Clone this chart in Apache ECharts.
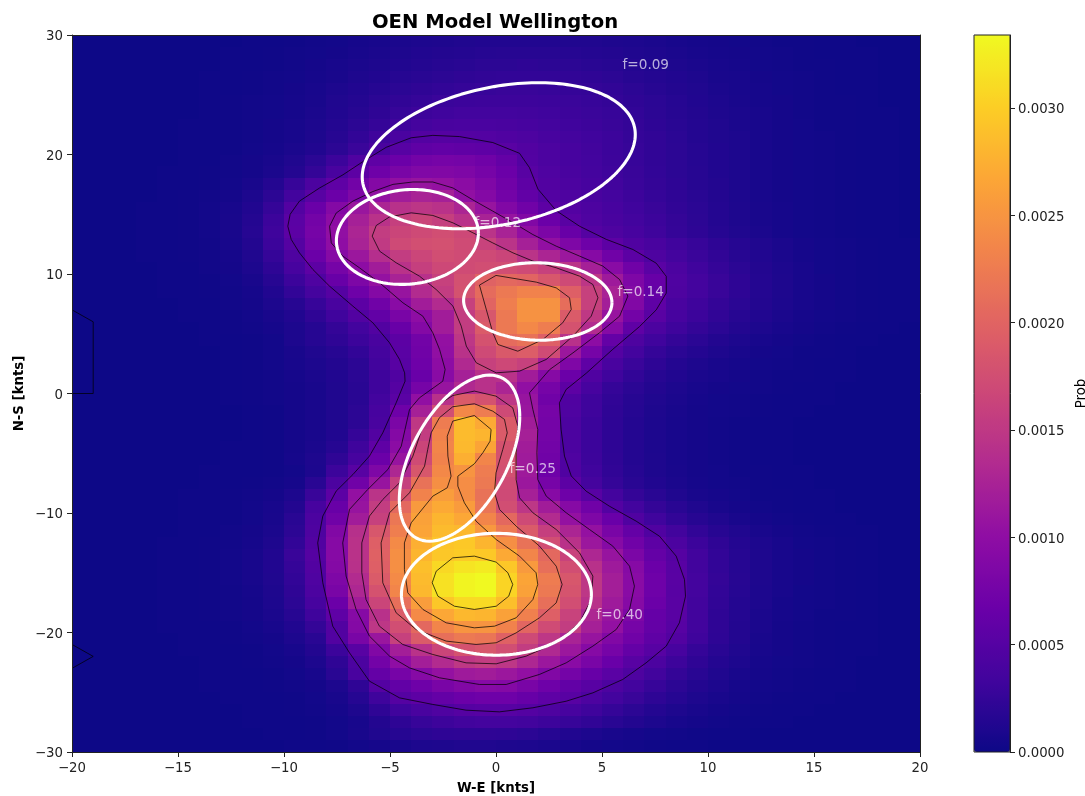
<!DOCTYPE html>
<html><head><meta charset="utf-8">
<style>html,body{margin:0;padding:0;background:#fff}#c{width:1085px;height:796px}</style>
<script src="https://cdn.jsdelivr.net/npm/echarts@6/dist/echarts.min.js"></script>
</head><body><div id="c"></div>
<script>
const titleText = "OEN Model Wellington";
const xLabel = "W-E [knts]";
const yLabel = "N-S [knts]";
const cbarLabel = "Prob";
const plasma = ["#0d0887","#41049d","#6a00a8","#8f0da4","#b12a90","#cc4778","#e16462","#f2844b","#fca636","#fcce25","#f0f921"];
const probMax = 0.00334;
const xCells = [-19.5,-18.5,-17.5,-16.5,-15.5,-14.5,-13.5,-12.5,-11.5,-10.5,-9.5,-8.5,-7.5,-6.5,-5.5,-4.5,-3.5,-2.5,-1.5,-0.5,0.5,1.5,2.5,3.5,4.5,5.5,6.5,7.5,8.5,9.5,10.5,11.5,12.5,13.5,14.5,15.5,16.5,17.5,18.5,19.5];
const yCells = [29.5,28.5,27.5,26.5,25.5,24.5,23.5,22.5,21.5,20.5,19.5,18.5,17.5,16.5,15.5,14.5,13.5,12.5,11.5,10.5,9.5,8.5,7.5,6.5,5.5,4.5,3.5,2.5,1.5,0.5,-0.5,-1.5,-2.5,-3.5,-4.5,-5.5,-6.5,-7.5,-8.5,-9.5,-10.5,-11.5,-12.5,-13.5,-14.5,-15.5,-16.5,-17.5,-18.5,-19.5,-20.5,-21.5,-22.5,-23.5,-24.5,-25.5,-26.5,-27.5,-28.5,-29.5];
// probability per cell, in units of 1e-5, rows from y=+29.5 down to y=-29.5
const probRows = [
[0,0,0,0,0,0,0,0,1,1, 2,3,4,6,7,9,10,11,12,13, 13,13,13,12,12,11,10,9,7,6, 5,4,3,2,2,1,1,0,0,0],
[0,0,0,0,0,0,0,1,1,2, 3,4,5,7,9,11,13,14,15,16, 17,17,17,16,15,14,12,11,9,7, 6,5,4,3,2,1,1,1,0,0],
[0,0,0,0,0,0,0,1,1,2, 3,5,7,9,11,13,15,17,18,20, 20,21,20,20,18,17,15,13,11,9, 7,6,4,3,2,2,1,1,0,0],
[0,0,0,0,0,0,1,1,2,3, 4,6,8,11,13,16,18,20,22,23, 24,24,24,23,22,20,17,15,13,11, 8,7,5,4,3,2,1,1,0,0],
[0,0,0,0,0,0,1,1,2,3, 5,7,10,13,16,19,22,24,26,27, 28,28,27,26,25,23,20,17,14,12, 9,7,6,4,3,2,1,1,0,0],
[0,0,0,0,0,0,1,2,3,4, 6,8,12,15,19,23,26,29,30,31, 31,31,30,29,27,25,22,19,16,13, 10,8,6,5,3,2,2,1,0,0],
[0,0,0,0,0,0,1,2,3,4, 6,9,13,17,22,27,31,33,35,35, 35,34,33,31,29,27,24,20,17,14, 11,9,7,5,3,2,2,1,1,0],
[0,0,0,0,0,1,1,2,3,5, 7,10,15,20,26,32,37,40,41,41, 40,38,36,33,31,28,25,21,18,15, 12,9,7,5,4,2,2,1,1,0],
[0,0,0,0,0,1,1,2,3,5, 7,11,17,24,32,41,48,50,49,48, 46,43,39,36,33,30,26,23,19,15, 12,10,7,5,4,3,2,1,1,0],
[0,0,0,0,0,1,1,2,4,6, 9,13,20,29,40,51,58,60,59,57, 53,47,42,38,34,30,27,23,20,16, 13,10,7,5,4,3,2,1,1,0],
[0,0,0,0,0,1,1,3,5,8, 12,19,30,46,58,68,75,78,76,71, 62,48,42,38,35,31,27,23,20,16, 13,10,7,5,4,3,2,1,1,0],
[0,0,0,0,1,1,2,3,5,9, 15,25,40,56,70,80,87,88,85,78, 68,52,45,40,36,32,28,24,20,17, 13,10,7,5,4,3,2,1,1,0],
[0,0,0,0,1,1,2,4,8,15, 27,42,58,74,90,103,108,105,97,86, 72,57,47,42,38,34,29,25,21,17, 14,10,7,5,4,3,2,1,1,0],
[0,0,0,0,1,2,3,5,10,20, 35,52,68,85,103,118,125,122,102,90, 75,60,48,44,40,36,31,26,22,18, 14,10,7,5,4,3,2,1,1,0],
[0,0,0,1,1,2,4,7,13,26, 48,67,90,110,128,142,147,143,128,108, 88,72,56,48,43,38,33,28,23,19, 15,11,8,6,4,3,2,1,1,0],
[0,0,0,1,1,2,4,8,15,30, 54,75,98,122,143,158,165,158,143,125, 107,88,68,53,45,40,35,30,25,20, 15,11,8,6,4,3,2,1,1,0],
[0,0,0,1,1,2,4,8,16,32, 55,78,102,128,155,165,170,175,168,145, 125,103,83,65,50,44,38,32,26,21, 16,12,9,6,4,3,2,1,1,0],
[0,0,0,1,1,2,3,7,14,30, 50,75,100,125,152,170,176,178,172,162, 145,122,103,85,70,56,46,40,33,27, 21,16,12,9,6,4,3,2,1,1],
[0,0,0,1,1,2,3,6,12,26, 44,68,92,112,138,155,166,175,172,170, 165,145,128,112,92,72,55,44,36,29, 23,17,13,9,6,4,3,2,1,1],
[0,0,0,0,1,1,3,5,10,21, 38,56,78,98,118,143,158,168,172,175, 175,170,160,145,122,95,72,54,42,33, 26,19,14,10,7,4,3,2,1,1],
[0,0,0,0,1,1,2,4,8,17, 30,45,65,84,105,125,142,160,178,198, 205,200,185,170,147,115,85,64,45,36, 28,21,15,11,7,5,3,2,1,1],
[0,0,0,0,1,1,2,3,6,13, 24,37,50,70,90,108,135,155,180,208, 222,232,232,195,160,125,90,62,44,36, 28,21,15,11,7,5,3,2,1,1],
[0,0,0,0,0,1,1,3,5,10, 17,27,40,55,72,95,118,135,160,200, 228,248,248,210,160,120,88,58,40,32, 25,19,14,10,7,5,3,2,1,1],
[0,0,0,0,0,1,1,2,4,8, 13,22,33,47,60,80,99,118,155,185, 222,248,248,190,150,108,75,53,38,30, 23,17,13,9,6,4,3,2,1,1],
[0,0,0,0,0,0,1,2,3,6, 10,16,25,35,47,65,90,118,155,190, 222,238,226,180,135,92,58,42,32,25, 19,14,10,7,5,3,2,1,1,0],
[0,0,0,0,0,0,1,1,2,4, 10,16,22,30,40,55,74,104,148,180, 208,215,195,142,98,62,44,33,25,19, 14,10,7,5,3,2,1,1,0,0],
[0,0,0,0,0,0,0,1,2,4, 8,12,17,24,37,54,72,102,143,170, 188,192,172,112,78,49,36,26,19,15, 11,8,5,4,2,2,1,0,0,0],
[0,0,0,0,0,0,0,1,2,4, 7,10,14,20,34,52,70,98,133,160, 168,160,120,86,58,40,29,21,15,11, 8,6,4,3,2,1,1,0,0,0],
[0,0,0,0,0,0,0,1,2,3, 6,9,13,19,32,46,66,95,122,142, 143,118,92,68,46,33,24,17,13,9, 7,5,3,2,2,1,1,0,0,0],
[0,0,0,0,0,0,0,1,2,3, 5,8,12,18,32,50,78,108,133,142, 128,102,78,56,38,26,19,14,10,7, 5,4,3,2,1,1,0,0,0,0],
[0,0,0,0,0,0,0,1,2,3, 5,8,12,18,35,54,102,142,190,180, 148,108,72,46,32,23,17,12,9,6, 4,3,2,1,1,1,0,0,0,0],
[0,0,0,0,0,0,0,0,1,2, 5,8,12,20,38,70,122,175,238,225, 170,110,78,45,32,22,16,11,8,5, 4,3,2,1,1,0,0,0,0,0],
[0,0,0,0,0,0,0,0,1,2, 5,8,12,20,40,82,150,225,285,270, 190,118,76,42,30,21,15,10,7,5, 3,2,1,1,0,0,0,0,0,0],
[0,0,0,0,0,0,0,0,1,2, 5,8,13,26,47,90,155,232,285,280, 190,122,76,42,30,21,15,10,7,5, 3,2,1,1,0,0,0,0,0,0],
[0,0,0,0,0,0,0,1,1,2, 5,9,16,32,58,97,165,235,283,265, 180,118,74,42,30,21,15,10,7,5, 3,2,1,1,0,0,0,0,0,0],
[0,0,0,0,0,0,0,1,1,2, 6,11,22,38,68,108,172,232,275,235, 180,116,72,45,31,22,15,11,7,5, 3,2,1,1,0,0,0,0,0,0],
[0,0,0,0,0,0,1,1,1,2, 4,10,30,52,85,130,185,238,250,225, 178,115,70,46,33,23,16,11,8,5, 4,2,2,1,1,0,0,0,0,0],
[0,0,0,0,0,0,1,1,2,3, 6,18,42,72,108,158,215,245,243,222, 172,112,78,55,37,26,18,13,9,6, 4,3,2,1,1,0,0,0,0,0],
[0,0,0,0,0,1,1,2,3,5, 10,28,55,104,145,182,232,258,243,215, 170,122,92,70,52,36,25,18,12,8, 6,4,2,2,1,1,0,0,0,0],
[0,0,0,0,0,1,1,2,4,7, 14,38,65,108,155,205,255,270,256,218, 175,148,118,92,72,48,35,25,18,12, 8,5,3,2,1,1,0,0,0,0],
[0,0,0,0,0,1,1,2,4,8, 18,42,72,118,160,220,262,280,268,235, 205,170,135,105,85,66,46,33,24,17, 12,8,5,3,2,1,1,0,0,0],
[0,0,0,0,0,1,1,3,5,9, 20,44,88,140,185,228,265,285,282,253, 222,190,158,128,105,80,62,46,34,24, 17,12,8,5,3,2,1,1,0,0],
[0,0,0,0,1,1,2,3,6,11, 24,47,92,143,195,240,275,292,296,280, 245,215,175,143,112,92,72,56,42,30, 22,15,10,7,4,3,2,1,0,0],
[0,0,0,0,1,1,2,4,7,13, 28,50,92,143,197,245,280,295,298,296, 270,235,205,162,130,108,82,62,50,34, 24,16,11,7,5,3,2,1,0,0],
[0,0,0,0,1,1,2,4,7,13, 26,47,90,142,195,245,288,308,318,322, 295,255,212,175,142,115,92,68,52,34, 24,16,11,7,5,3,2,1,0,0],
[0,0,0,0,1,1,2,4,7,12, 24,45,85,135,190,240,285,315,330,334, 305,265,225,185,148,120,95,70,53,36, 25,17,11,7,5,3,2,1,0,0],
[0,0,0,0,1,1,2,3,6,11, 22,42,80,130,180,235,282,315,330,334, 305,262,222,182,148,120,95,70,52,36, 24,16,10,7,4,3,2,1,0,0],
[0,0,0,0,1,1,2,3,5,10, 20,38,68,118,165,212,258,295,310,310, 288,248,212,175,142,115,92,68,53,34, 23,15,10,6,4,3,2,1,0,0],
[0,0,0,0,1,1,2,3,5,9, 17,32,58,92,142,190,240,268,282,280, 262,230,195,162,130,108,85,63,53,34, 22,15,9,6,4,2,2,1,0,0],
[0,0,0,0,1,1,1,2,4,7, 13,25,47,90,148,175,205,235,250,250, 232,202,172,155,122,104,78,62,51,34, 22,14,9,5,3,2,1,1,0,0],
[0,0,0,0,0,1,1,2,3,5, 10,18,47,80,110,160,190,212,222,218, 197,170,148,125,108,88,72,58,47,32, 21,14,8,5,3,2,1,1,0,0],
[0,0,0,0,0,1,1,1,2,4, 7,14,30,52,88,120,143,165,180,185, 175,155,132,112,92,78,62,51,38,26, 18,12,7,5,3,2,1,1,0,0],
[0,0,0,0,0,0,1,1,2,3, 5,10,22,42,75,100,120,135,150,155, 148,130,112,96,80,66,52,42,31,22, 15,10,6,4,3,2,1,0,0,0],
[0,0,0,0,0,0,1,1,1,2, 4,7,18,40,62,78,92,105,115,118, 112,103,88,76,64,54,44,34,25,18, 12,8,5,3,2,1,1,0,0,0],
[0,0,0,0,0,0,1,1,1,2, 3,5,10,22,49,60,70,80,88,92, 90,80,70,60,52,43,35,27,20,14, 10,6,4,3,2,1,1,0,0,0],
[0,0,0,0,0,0,0,1,1,1, 2,4,8,16,32,50,56,62,68,70, 70,64,57,52,43,35,28,21,16,11, 8,5,3,2,1,1,0,0,0,0],
[0,0,0,0,0,0,0,0,1,1, 2,3,6,11,22,33,40,45,50,51, 51,49,44,38,32,26,20,15,11,8, 5,3,2,1,1,0,0,0,0,0],
[0,0,0,0,0,0,0,0,1,1, 1,2,4,7,14,21,27,31,34,36, 36,34,31,27,23,18,14,10,7,5, 3,2,1,1,0,0,0,0,0,0],
[0,0,0,0,0,0,0,0,0,1, 1,2,4,8,12,16,19,21,22,22, 21,19,16,13,10,8,6,4,3,2, 1,1,0,0,0,0,0,0,0,0],
[0,0,0,0,0,0,0,0,0,0, 1,1,2,4,6,8,10,11,12,12, 11,10,9,7,5,4,3,2,1,1, 0,0,0,0,0,0,0,0,0,0]
];
// contour lines, read in knots [W-E, N-S]
const contourEdgeA = [[-20,7],[-19,6],[-19,0],[-20,0]];
const contourEdgeB = [[-20,-21],[-19,-22],[-20,-23]];
const contour05 = [[-9.82,14],[-9.71,15],[-9.27,16.1],[-8.32,17.2],[-7.22,18.3],[-6.28,19.4],[-5.18,20.6],[-4,21.4],[-2.98,21.6],[-1.72,21.5],[-0.15,21],[1.11,20.1],[1.58,18.9],[1.98,17.1],[2.84,15.3],[3.94,14],[5.2,12.9],[6.46,12.05],[7.56,10.9],[8.03,9.8],[8.03,8.4],[7.56,7],[6.77,5.6],[5.51,3.7],[4.26,1.7],[3.31,0.34],[2.99,-0.78],[3.07,-3],[3.23,-5.24],[3.55,-6.9],[4.25,-8.17],[5.35,-9.43],[6.61,-10.68],[7.71,-11.94],[8.5,-13.61],[8.89,-15.56],[8.94,-16.96],[8.65,-19.19],[8.03,-21.14],[7.08,-22.54],[5.98,-23.93],[4.57,-25.05],[3.31,-25.75],[1.74,-26.3],[0.16,-26.64],[-1.41,-26.5],[-2.98,-26.02],[-4.55,-25.47],[-5.97,-24.07],[-6.91,-21.7],[-7.7,-19.47],[-8.17,-15.84],[-8.41,-12.5],[-8.17,-10.26],[-7.54,-8.17],[-6.75,-6.78],[-5.97,-5.24],[-5.34,-3.29],[-4.71,-0.78],[-4.29,1.03],[-4.31,1.73],[-4.55,2.85],[-5.02,4.24],[-5.81,5.92],[-6.75,7.31],[-7.85,8.98],[-8.64,10.38],[-9.27,11.77],[-9.66,12.89],[-9.82,14]];
const contour10 = [[-7.85,14],[-7.54,15.1],[-6.75,16.1],[-5.81,16.9],[-4.86,17.5],[-3.92,17.7],[-2.98,17.7],[-2.03,17.2],[-1.09,16.2],[-0.15,15.26],[0.8,14.3],[1.74,13.3],[2.84,12.33],[3.94,11.5],[5.04,10.66],[5.83,9.54],[6.22,8.15],[5.83,6.47],[4.88,5.08],[3.63,3.4],[2.53,2],[1.58,0.06],[1.74,-1.34],[1.97,-3],[1.93,-4.96],[1.97,-7.2],[2.37,-8.59],[3.31,-9.98],[4.41,-11.38],[5.51,-12.77],[6.3,-14.45],[6.53,-16.12],[6.3,-18.07],[5.67,-19.75],[4.57,-21.14],[3.31,-22.54],[2.05,-23.51],[0.48,-24.35],[-0.78,-24.35],[-2.67,-23.79],[-4.08,-22.96],[-5.02,-21.98],[-5.97,-20.3],[-6.6,-18.07],[-7.07,-15.28],[-7.23,-12.5],[-6.91,-9.7],[-6.05,-8.03],[-5.1,-6.36],[-4.47,-4.41],[-4.08,-1.34],[-3.61,-0.36],[-2.51,1.03],[-2.4,2.01],[-2.66,3.68],[-2.98,5.08],[-3.45,6.47],[-4.39,7.59],[-5.49,9.26],[-6.44,10.52],[-7.22,11.49],[-7.77,12.6],[-7.85,14]];
const contour15a = [[-5.84,13.17],[-5.65,14.06],[-5.02,14.78],[-4,15.12],[-2.98,14.9],[-2.03,14.28],[-1.09,13.45],[-0.15,12.6],[0.8,11.77],[1.74,11.08],[2.84,10.52],[3.94,9.82],[4.57,9.12],[4.81,8.01],[4.49,6.47],[3.63,4.8],[2.37,2.85],[1.11,1.87],[0.01,1.73],[-0.93,2.57],[-1.4,3.96],[-1.64,5.64],[-2.03,7.31],[-2.82,8.7],[-3.61,9.82],[-4.71,10.94],[-5.49,11.91],[-5.84,13.17]];
const contour20a = [[-0.78,9.07],[0,9.88],[1.9,9.32],[2.84,8.84],[3.47,8.01],[3.55,7.03],[3.15,5.92],[2.21,4.52],[1.03,3.54],[0.09,4.1],[-0.15,5.08],[-0.78,9.07]];
const contour15b = [[-1.02,0.2],[0,-0.22],[0.79,-1.2],[1.03,-2.73],[0.95,-4.96],[0.95,-7.2],[1.11,-8.73],[1.74,-9.98],[2.84,-11.38],[3.94,-13.33],[4.57,-15.28],[4.49,-17.24],[3.94,-19.19],[2.84,-20.86],[1.42,-21.98],[0.01,-22.62],[-1.41,-22.54],[-2.98,-21.84],[-4.4,-21],[-5.5,-19.47],[-6.13,-17.24],[-6.33,-15],[-6.33,-12.5],[-5.97,-10.26],[-5.34,-8.87],[-4.55,-7.47],[-3.92,-5.24],[-3.45,-2.73],[-2.82,-1.06],[-2.04,-0.17],[-1.02,0.2]];
const contour20b = [[-1.02,-0.86],[-0.15,-1.48],[0.4,-2.17],[0.53,-3.29],[0.32,-4.68],[0,-6.64],[-0.07,-8.31],[0.17,-9.71],[0.95,-11.1],[2.05,-12.77],[2.84,-14.45],[3.12,-15.98],[2.84,-17.52],[2.05,-18.77],[0.95,-20.03],[0.01,-20.86],[-0.94,-21],[-2.35,-20.72],[-3.77,-19.75],[-4.71,-18.35],[-5.34,-15.84],[-5.42,-12.5],[-5.02,-9.98],[-4.08,-8.31],[-3.37,-6.08],[-3.22,-4.68],[-3.06,-3.29],[-2.67,-2.03],[-2.04,-1.11],[-1.02,-0.86]];
const contour25 = [[-1.02,-1.84],[-0.23,-3.01],[-0.28,-3.99],[-0.62,-4.96],[-1.02,-5.88],[-1.8,-6.92],[-1.8,-7.75],[-1.49,-9.15],[-0.94,-10.68],[0.01,-12.22],[1.11,-13.61],[1.89,-15],[1.97,-15.98],[1.74,-17.24],[0.95,-18.77],[-0.07,-19.47],[-1.02,-19.61],[-2.35,-19.19],[-3.45,-18.07],[-4.16,-16.68],[-4.32,-14.73],[-4.32,-12.5],[-4,-10.82],[-2.98,-8.59],[-2.3,-7.89],[-2.12,-6.92],[-2.27,-5.24],[-2.3,-3.57],[-2.04,-2.31],[-1.02,-1.84]];
const contour30 = [[-2.04,-13.75],[-1.02,-13.61],[0.01,-14.11],[0.56,-15],[0.79,-15.98],[0.6,-16.96],[0.01,-17.8],[-1.02,-18.07],[-1.96,-17.8],[-2.74,-16.96],[-3.01,-15.84],[-2.82,-14.87],[-2.04,-13.75]];
const contours = [contourEdgeA,contourEdgeB,contour05,contour10,contour15a,contour20a,contour15b,contour20b,contour25,contour30];
// mixture components: x centre, y centre, x half-extent, y half-extent, correlation, label
const compCx = [0.13,-4.18,1.97,-1.72,0.02];
const compCy = [19.9,13.1,7.7,-5.41,-16.8];
const compEx = [6.44,3.35,3.5,2.84,4.48];
const compEy = [6.11,3.97,3.24,6.95,5.1];
const compR  = [0.29,0.08,-0.03,0.5,0];
const compLabel = ["f=0.09","f=0.12","f=0.14","f=0.25","f=0.40"];
const labelX = [5.97,-1.01,5.73,0.64,4.74];
const labelY = [27.43,14.23,8.49,-6.37,-18.57];

const heat = [];
probRows.forEach((row,r)=>row.forEach((v,c)=>heat.push([xCells[c],yCells[r],v*1e-5])));
const ellipsePts = i => { const pts=[]; for(let k=0;k<=180;k++){const t=k/180*2*Math.PI;
  pts.push([compCx[i]+compEx[i]*Math.cos(t), compCy[i]+compEy[i]*(compR[i]*Math.cos(t)+Math.sqrt(1-compR[i]*compR[i])*Math.sin(t))]);} return pts; };
const font = "DejaVu Sans";
const fs = 13.3;
const ink = "#222";
const minus = v => String(v).replace("-","\u2212");
const series = [{
  type:"custom", xAxisIndex:0, yAxisIndex:0, data:heat, progressive:0, silent:true, z:2, animation:false,
  encode:{x:0,y:1},
  renderItem:(params,api)=>{
    const x=api.value(0), y=api.value(1);
    const a=api.coord([x-0.5,y+0.5]), b=api.coord([x+0.5,y-0.5]);
    const l=Math.round(a[0]), t=Math.round(a[1]), r=Math.round(b[0]), d=Math.round(b[1]);
    return {type:"rect",shape:{x:l,y:t,width:r-l,height:d-t},style:{fill:api.visual("color"),stroke:null}};
  }
}];
contours.forEach(c=>series.push({type:"line",xAxisIndex:0,yAxisIndex:0,data:c,symbol:"none",silent:true,z:3,
  lineStyle:{color:"rgba(0,0,0,0.8)",width:0.9},animation:false}));
compCx.forEach((_,i)=>series.push({type:"line",xAxisIndex:0,yAxisIndex:0,data:ellipsePts(i),symbol:"none",silent:true,z:4,
  lineStyle:{color:"#fff",width:3.1},animation:false}));
series.push({type:"scatter",xAxisIndex:0,yAxisIndex:0,symbolSize:0,silent:true,z:5,animation:false,
  data:compLabel.map((t,i)=>({value:[labelX[i],labelY[i]],name:t})),
  label:{show:true,position:"right",distance:0,formatter:p=>p.name,color:"rgba(255,255,255,0.85)",fontFamily:font,fontSize:13.6}});
const frameAxis = {type:"value",gridIndex:0,z:6,axisLabel:{show:false},axisTick:{show:false},splitLine:{show:false},
  axisLine:{show:true,onZero:false,lineStyle:{color:ink,width:1}}};
const chart = echarts.init(document.getElementById("c"),null,{renderer:"canvas"});
chart.setOption({
  animation:false, backgroundColor:"#fff",
  title:{text:titleText,left:490,top:8,textAlign:"center",textStyle:{fontFamily:font,fontWeight:"bold",fontSize:19.6,color:"#000"}},
  grid:[{left:72,top:35,width:848,height:717,outerBoundsMode:"none"},{left:974,top:35,width:36,height:717,outerBoundsMode:"none",show:true,borderColor:ink,borderWidth:1,backgroundColor:"transparent",z:5}],
  visualMap:{type:"continuous",seriesIndex:0,dimension:2,min:0,max:probMax,calculable:false,hoverLink:false,show:true,
    left:974,top:35,itemWidth:36,itemHeight:717,padding:0,text:null,showLabel:false,inRange:{color:plasma},textStyle:{color:"transparent",fontSize:1}},
  xAxis:[
    {type:"value",gridIndex:0,z:6,min:-20,max:20,interval:5,position:"bottom",name:xLabel,nameLocation:"middle",nameGap:30,nameMoveOverlap:false,
      nameTextStyle:{fontFamily:font,fontWeight:"bold",fontSize:fs,color:"#000"},
      axisLine:{show:true,onZero:false,lineStyle:{color:ink,width:1}},axisTick:{show:true,length:5,lineStyle:{color:ink}},
      axisLabel:{fontFamily:font,fontSize:fs,color:ink,margin:10,formatter:minus,hideOverlap:false},splitLine:{show:false}},
    Object.assign({},frameAxis,{min:-20,max:20,position:"top"}),
    {type:"value",gridIndex:1,min:0,max:1,show:false,splitLine:{show:false}}
  ],
  yAxis:[
    {type:"value",gridIndex:0,z:6,min:-30,max:30,interval:10,position:"left",name:yLabel,nameLocation:"middle",nameGap:46,nameMoveOverlap:false,
      nameTextStyle:{fontFamily:font,fontWeight:"bold",fontSize:fs,color:"#000"},
      axisLine:{show:true,onZero:false,lineStyle:{color:ink,width:1}},axisTick:{show:true,length:5,lineStyle:{color:ink}},
      axisLabel:{fontFamily:font,fontSize:fs,color:ink,margin:9,verticalAlign:"top",lineHeight:4,formatter:minus},splitLine:{show:false}},
    Object.assign({},frameAxis,{min:-30,max:30,position:"right"}),
    {type:"value",gridIndex:1,min:0,max:probMax,interval:0.0005,position:"right",name:cbarLabel,nameLocation:"middle",nameGap:65,nameRotate:90,nameMoveOverlap:false,
      nameTextStyle:{fontFamily:font,fontSize:13.3,color:"#000"},
      axisLine:{show:true,onZero:false,lineStyle:{color:ink,width:1}},axisTick:{show:true,length:5,lineStyle:{color:ink}},
      axisLabel:{fontFamily:font,fontSize:fs,color:ink,margin:8,verticalAlign:"top",lineHeight:4,formatter:v=>v.toFixed(4),showMaxLabel:false},splitLine:{show:false}}
  ],
  series
});
</script></body></html>
